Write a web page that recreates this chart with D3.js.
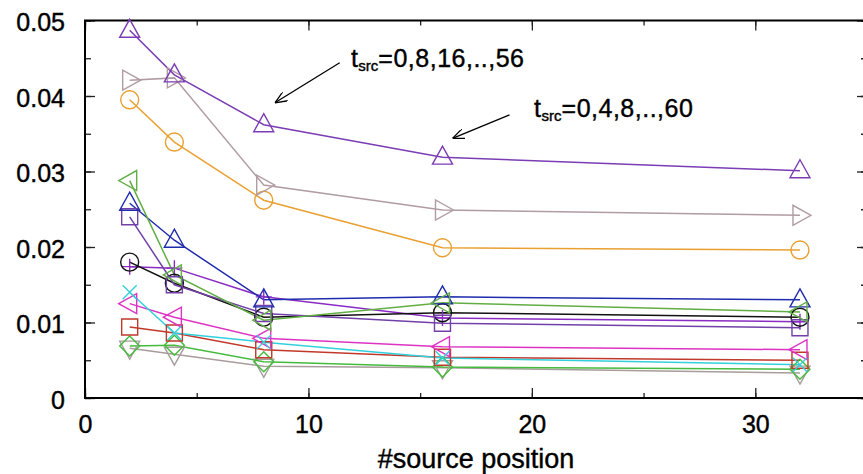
<!DOCTYPE html>
<html>
<head>
<meta charset="utf-8">
<script src="https://cdn.jsdelivr.net/npm/d3@7"></script>
<style>
  body { margin: 0; background: #fff; }
  svg { display: block; font-family: 'Liberation Sans', Arial, sans-serif; }
</style>
</head>
<body>
<svg id="chart" width="863" height="474"></svg>
<script>
// x positions (#source position)
const xs = [2, 4, 8, 16, 32]

// one array per curve
const purpleTri = [0.0487, 0.0428, 0.0362, 0.0319, 0.0301]
const brownTri = [0.0421, 0.0424, 0.0282, 0.0249, 0.0242]
const orangeCircle = [0.0395, 0.0339, 0.0262, 0.0199, 0.0196]
const greenTri = [0.0288, 0.0163, 0.0103, 0.0126, 0.0114]
const blueTri = [0.0258, 0.0209, 0.0130, 0.0134, 0.0130]
const purpleSquare = [0.0240, 0.0150, 0.0112, 0.0099, 0.0093]
const blackCircle = [0.0180, 0.0152, 0.0107, 0.0113, 0.0107]
const violetPlus = [0.0174, 0.0172, 0.0134, 0.0106, 0.0101]
const cyanCross = [0.0140, 0.0086, 0.0074, 0.0053, 0.0044]
const magentaTri = [0.0125, 0.0107, 0.0079, 0.0068, 0.0064]
const redSquare = [0.0094, 0.0086, 0.0064, 0.0054, 0.0050]
const greenDiamond = [0.0069, 0.0070, 0.0048, 0.0041, 0.0038]
const greyTri = [0.0066, 0.0058, 0.0042, 0.0040, 0.0033]

const xTicks = [0, 10, 20, 30]
const yTicks = [0, 0.01, 0.02, 0.03, 0.04, 0.05]

const notes = [
  { label: '=0,8,16,..,56', tx: 11.9, ty: 0.0438, from: [11.4, 0.0444], to: [8.5, 0.0391] },
  { label: '=0,4,8,..,60', tx: 20.1, ty: 0.0372, from: [19.0, 0.0375], to: [16.45, 0.0344] }
]

const series = [
  { values: greyTri, color: '#a89c9c', shape: 'down' },
  { values: greenDiamond, color: '#44bb3c', shape: 'diamond' },
  { values: redSquare, color: '#c0392b', shape: 'square' },
  { values: magentaTri, color: '#dd33c4', shape: 'left' },
  { values: cyanCross, color: '#33d0dc', shape: 'times' },
  { values: violetPlus, color: '#8a2cc4', shape: 'plus' },
  { values: blackCircle, color: '#111111', shape: 'circle' },
  { values: purpleSquare, color: '#7140a8', shape: 'square' },
  { values: blueTri, color: '#1f2cae', shape: 'up' },
  { values: greenTri, color: '#62ae44', shape: 'left' },
  { values: orangeCircle, color: '#e9a031', shape: 'circle' },
  { values: brownTri, color: '#b09ca2', shape: 'right' },
  { values: purpleTri, color: '#7a3db4', shape: 'up' }
]

const shapes = {
  up: 'M0,-11L10,7L-10,7Z',
  down: 'M0,11L10,-7L-10,-7Z',
  left: 'M-11,0L7,-10L7,10Z',
  right: 'M11,0L-7,-10L-7,10Z',
  square: 'M-8,-8H8V8H-8Z',
  circle: 'M9,0A9,9 0 1,1 -9,0A9,9 0 1,1 9,0Z',
  diamond: 'M0,-10L10,0L0,10L-10,0Z',
  plus: 'M-8,0H8M0,-8V8',
  times: 'M-7,-7L7,7M-7,7L7,-7'
}

const svg = d3.select('#chart')
const margin = { left: 85, top: 20.5, right: 867, bottom: 398 }

const xScale = d3.scaleLinear().domain([0, 35]).range([margin.left, margin.right])
const yScale = d3.scaleLinear().domain([0, 0.05]).range([margin.bottom, margin.top])

const xMinor = d3.range(0, 36, 5)
const yMinor = d3.range(0, 0.0501, 0.005)

function ticks(axis, values, size, labels) {
  return axis.tickValues(values).tickSize(size).tickFormat(labels ? null : '')
}

// minor ticks on all four sides
svg.append('g').attr('transform', `translate(0,${margin.bottom})`)
  .call(ticks(d3.axisBottom(xScale), xMinor, -5, false))
svg.append('g').attr('transform', `translate(0,${margin.top})`)
  .call(ticks(d3.axisTop(xScale), xMinor, -5, false))
svg.append('g').attr('transform', `translate(${margin.left},0)`)
  .call(ticks(d3.axisLeft(yScale), yMinor, -6, false))
svg.append('g').attr('transform', `translate(${margin.right},0)`)
  .call(ticks(d3.axisRight(yScale), yMinor, -6, false))

// major ticks
svg.append('g').attr('transform', `translate(0,${margin.bottom})`)
  .call(ticks(d3.axisBottom(xScale), xTicks, -10, true).tickPadding(17).tickFormat(d3.format('d')))
svg.append('g').attr('transform', `translate(0,${margin.top})`)
  .call(ticks(d3.axisTop(xScale), xTicks, -10, false))
const yAxis = svg.append('g').attr('transform', `translate(${margin.left},0)`)
  .call(ticks(d3.axisLeft(yScale), yTicks, -10, true).tickPadding(20)
    .tickFormat(d => (d === 0 ? '0' : d3.format('.2f')(d))))
svg.append('g').attr('transform', `translate(${margin.right},0)`)
  .call(ticks(d3.axisRight(yScale), yTicks, -10, false))

svg.selectAll('.domain').remove()
svg.selectAll('.tick line').attr('stroke', '#222').attr('stroke-width', 1.3)
svg.selectAll('.tick text').attr('fill', '#000').style('font-size', '25px')
  .style('font-family', "'Liberation Sans', Arial, sans-serif")
  .attr('stroke', '#000').attr('stroke-width', 0.4)
yAxis.selectAll('.tick text').attr('dy', '0.40em')

// frame
svg.append('rect')
  .attr('x', margin.left).attr('y', margin.top)
  .attr('width', margin.right - margin.left).attr('height', margin.bottom - margin.top)
  .attr('fill', 'none').attr('stroke', '#000').attr('stroke-width', 2)

const line = d3.line().x((d, i) => xScale(xs[i])).y(d => yScale(d))

const curves = svg.append('g')
series.forEach(s => {
  curves.append('path')
    .attr('d', line(s.values))
    .attr('fill', 'none')
    .attr('stroke', s.color)
    .attr('stroke-width', 1.5)
})
series.forEach(s => {
  curves.selectAll(null)
    .data(s.values)
    .join('path')
    .attr('transform', (d, i) => `translate(${xScale(xs[i])},${yScale(d)})`)
    .attr('d', shapes[s.shape])
    .attr('fill', 'none')
    .attr('stroke', s.color)
    .attr('stroke-width', 1.4)
})

// arrows + labels
svg.append('defs').append('marker')
  .attr('id', 'head')
  .attr('viewBox', '0 0 12 10')
  .attr('refX', 12).attr('refY', 5)
  .attr('markerWidth', 12).attr('markerHeight', 10)
  .attr('markerUnits', 'userSpaceOnUse')
  .attr('orient', 'auto')
  .append('path')
  .attr('d', 'M0,0L12,5L0,10')
  .attr('fill', 'none').attr('stroke', '#000').attr('stroke-width', 1.3)

notes.forEach(n => {
  svg.append('line')
    .attr('x1', xScale(n.from[0])).attr('y1', yScale(n.from[1]))
    .attr('x2', xScale(n.to[0])).attr('y2', yScale(n.to[1]))
    .attr('stroke', '#000').attr('stroke-width', 1.3)
    .attr('marker-end', 'url(#head)')
  const t = svg.append('text')
    .attr('x', xScale(n.tx)).attr('y', yScale(n.ty))
    .style('font-size', '25px')
    .style('letter-spacing', '0.5px')
    .attr('stroke', '#000').attr('stroke-width', 0.4)
  t.append('tspan').text('t')
  t.append('tspan').attr('dy', 4).style('font-size', '15px').style('letter-spacing', '0px').text('src')
  t.append('tspan').attr('dy', -4).text(n.label)
})

svg.append('text')
  .attr('x', (margin.left + margin.right) / 2)
  .attr('y', 468)
  .attr('text-anchor', 'middle')
  .style('font-size', '27px')
  .attr('stroke', '#000').attr('stroke-width', 0.4)
  .text('#source position')
</script>
</body>
</html>
